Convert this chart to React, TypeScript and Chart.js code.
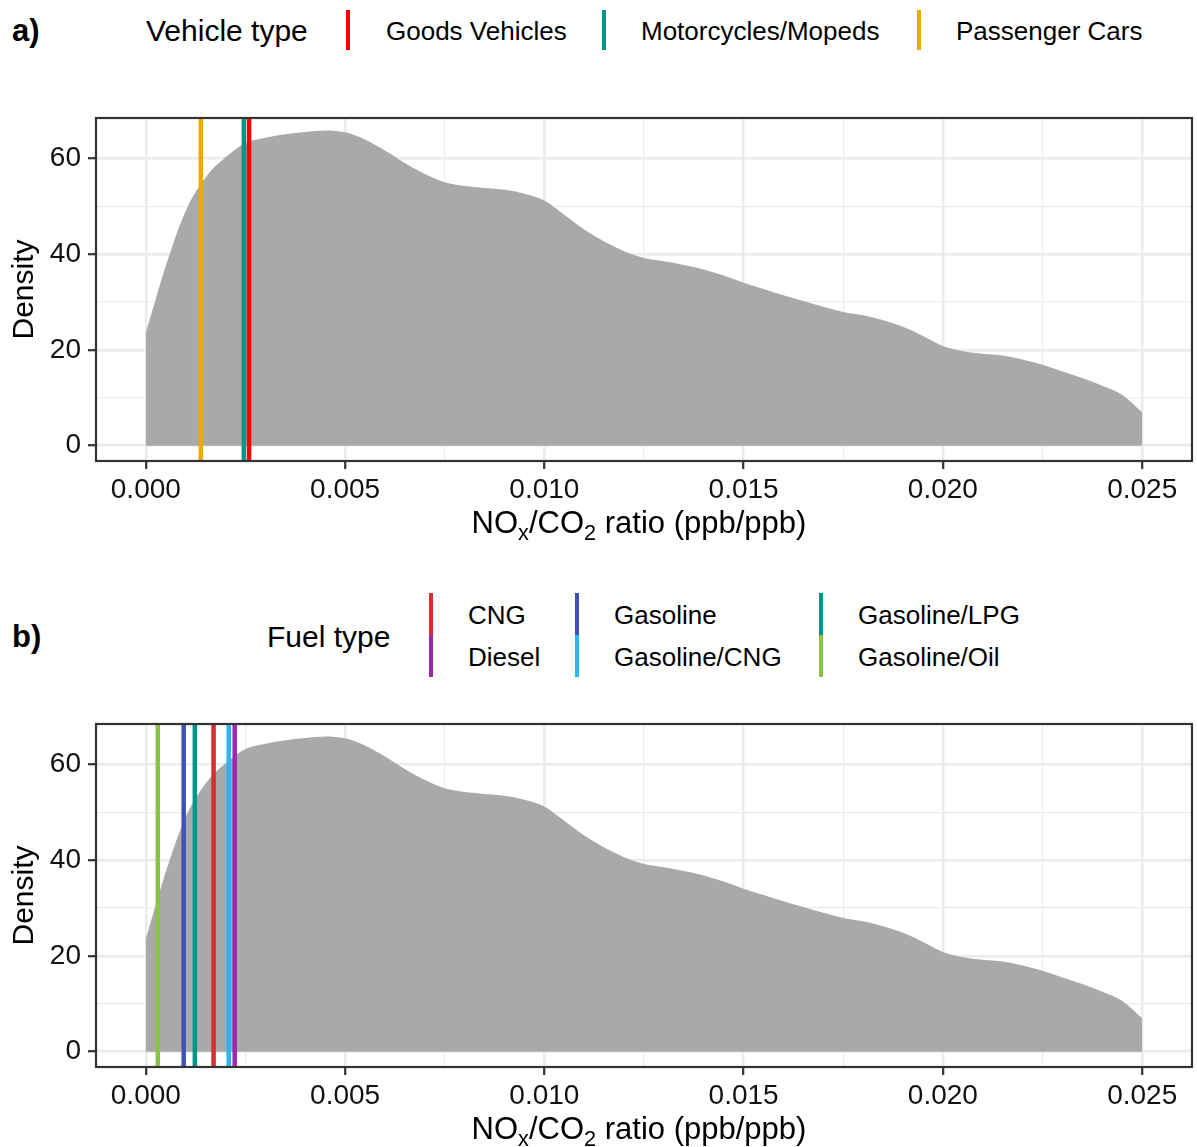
import React, { useEffect, useRef } from 'react';
import { Chart, registerables } from 'chart.js';

Chart.register(...registerables);

const FONT = "'Liberation Sans', Arial, Helvetica, sans-serif";

// Kernel density of the NOx/CO2 ratio (same in both panels)
const X_GRID = [
  0, 0.0005, 0.001, 0.0015, 0.002, 0.0025, 0.003, 0.0035, 0.004, 0.0045,
  0.005, 0.0055, 0.006, 0.0065, 0.007, 0.0075, 0.008, 0.0085, 0.009, 0.0095,
  0.01, 0.0105, 0.011, 0.0115, 0.012, 0.0125, 0.013, 0.0135, 0.014, 0.0145,
  0.015, 0.0155, 0.016, 0.0165, 0.017, 0.0175, 0.018, 0.0185, 0.019, 0.0195,
  0.02, 0.0205, 0.021, 0.0215, 0.022, 0.0225, 0.023, 0.0235, 0.024, 0.0245, 0.025,
];
const DENSITY = [
  23.5, 37.5, 49.0, 56.0, 60.2, 63.2, 64.3, 65.0, 65.5, 65.8,
  65.4, 63.9, 61.6, 59.0, 56.7, 55.0, 54.2, 53.8, 53.4, 52.6,
  51.2, 48.2, 45.1, 42.6, 40.6, 39.2, 38.5, 37.7, 36.8, 35.5,
  34.0, 32.7, 31.4, 30.2, 29.0, 27.9, 27.2, 26.2, 24.8, 22.9,
  20.8, 19.7, 19.2, 18.8, 18.0, 16.9, 15.5, 14.1, 12.5, 10.6, 7.0,
];

// Panel a: vehicle type medians
const VEHICLE_TYPES = ['Goods Vehicles', 'Motorcycles/Mopeds', 'Passenger Cars'];
const VEHICLE_VALUES = [0.00259, 0.00246, 0.00138];
const VEHICLE_COLORS = ['#FF0000', '#009688', '#F2A800'];

// Panel b: fuel type medians
const FUEL_TYPES = ['CNG', 'Diesel', 'Gasoline', 'Gasoline/CNG', 'Gasoline/LPG', 'Gasoline/Oil'];
const FUEL_VALUES = [0.0017, 0.00223, 0.00095, 0.00208, 0.00123, 0.0003];
const FUEL_COLORS = ['#D32F2F', '#9C27B0', '#3F51B5', '#29B6F6', '#009688', '#8BC34A'];

// Axes
const X_TICKS = [0, 0.0025, 0.005, 0.0075, 0.01, 0.0125, 0.015, 0.0175, 0.02, 0.0225, 0.025];
const X_LABELS = ['0.000', '', '0.005', '', '0.010', '', '0.015', '', '0.020', '', '0.025'];
const Y_TICKS = [0, 10, 20, 30, 40, 50, 60];
const Y_LABELS = ['0', '', '20', '', '40', '', '60'];
const X_MIN = -0.00125;
const X_MAX = 0.02625;
const Y_MIN = -3.2;
const Y_MAX = 68.4;

const FILL = '#A9A9A9';
const GRID = '#EBEBEB';
const AXIS = '#333333';

const borderPlugin = {
  id: 'panelBorder',
  afterDraw(chart: any) {
    const { ctx, chartArea } = chart;
    ctx.save();
    ctx.strokeStyle = AXIS;
    ctx.lineWidth = 2.2;
    ctx.strokeRect(chartArea.left, chartArea.top, chartArea.right - chartArea.left, chartArea.bottom - chartArea.top);
    ctx.restore();
  },
};

type Line = { value: number; color: string };

function DensityPanel({ top, height, lines }: { top: number; height: number; lines: Line[] }) {
  const ref = useRef<HTMLCanvasElement | null>(null);
  useEffect(() => {
    if (!ref.current) return;
    const plotBottom = 361;
    const datasets: any[] = [
      {
        data: X_GRID.map((x, i) => ({ x, y: DENSITY[i] })),
        fill: 'origin',
        backgroundColor: FILL,
        borderWidth: 0,
        borderColor: 'rgba(0,0,0,0)',
        pointRadius: 0,
        cubicInterpolationMode: 'monotone',
        order: 10,
      },
      ...lines.map((l) => ({
        data: [
          { x: l.value, y: Y_MIN },
          { x: l.value, y: Y_MAX },
        ],
        borderColor: l.color,
        borderWidth: 4.5,
        pointRadius: 0,
        fill: false,
        order: 0,
      })),
    ];
    const chart = new Chart(ref.current, {
      type: 'line',
      data: { datasets },
      plugins: [borderPlugin],
      options: {
        responsive: false,
        animation: false,
        events: [],
        layout: { padding: { top: 18, right: 5, left: 0, bottom: 0 } },
        plugins: { legend: { display: false }, tooltip: { enabled: false } },
        scales: {
          x: {
            type: 'linear',
            min: X_MIN,
            max: X_MAX,
            afterBuildTicks: (s: any) => {
              s.ticks = X_TICKS.map((v) => ({ value: v }));
            },
            afterFit: (s: any) => {
              s.height = height - plotBottom;
              s.paddingLeft = 0;
              s.paddingRight = 0;
            },
            border: { display: false },
            grid: {
              color: GRID,
              lineWidth: (c: any) => (c.index % 2 === 0 ? 2.4 : 1.2),
              tickColor: (c: any) => (c.index % 2 === 0 ? AXIS : 'rgba(0,0,0,0)'),
              tickWidth: 2.2,
              tickLength: 8,
              drawTicks: true,
            },
            ticks: {
              autoSkip: false,
              maxRotation: 0,
              padding: 4,
              color: '#111',
              font: { family: FONT, size: 28 },
              callback: (_v: any, i: number) => X_LABELS[i],
            },
          },
          y: {
            type: 'linear',
            min: Y_MIN,
            max: Y_MAX,
            afterBuildTicks: (s: any) => {
              s.ticks = Y_TICKS.map((v) => ({ value: v }));
            },
            afterFit: (s: any) => {
              s.width = 96;
              s.paddingTop = 0;
              s.paddingBottom = 0;
            },
            border: { display: false },
            grid: {
              color: GRID,
              lineWidth: (c: any) => (c.index % 2 === 0 ? 2.4 : 1.2),
              tickColor: (c: any) => (c.index % 2 === 0 ? AXIS : 'rgba(0,0,0,0)'),
              tickWidth: 2.2,
              tickLength: 8,
              drawTicks: true,
            },
            ticks: {
              autoSkip: false,
              padding: 7,
              color: '#111',
              font: { family: FONT, size: 28 },
              callback: (_v: any, i: number) => Y_LABELS[i],
            },
            title: {
              display: true,
              text: 'Density',
              color: '#000',
              font: { family: FONT, size: 30 },
              padding: { top: 7, bottom: 0 },
            },
          },
        },
      },
    });
    return () => chart.destroy();
  }, []);
  return (
    <canvas
      ref={ref}
      width={1197}
      height={height}
      style={{ position: 'absolute', left: 0, top, width: 1197, height }}
    />
  );
}

const textBase: React.CSSProperties = {
  position: 'absolute',
  fontFamily: FONT,
  color: '#000',
  whiteSpace: 'nowrap',
  height: 40,
  lineHeight: '40px',
};

function Label({ x, cy, size, bold, children }: { x: number; cy: number; size: number; bold?: boolean; children: any }) {
  return (
    <div style={{ ...textBase, left: x, top: cy - 20, fontSize: size, fontWeight: bold ? 'bold' : 'normal' }}>{children}</div>
  );
}

function Key({ x, y0, y1, color }: { x: number; y0: number; y1: number; color: string }) {
  return <div style={{ position: 'absolute', left: x - 2.25, top: y0, width: 4.5, height: y1 - y0, background: color }} />;
}

function XTitle({ cy }: { cy: number }) {
  return (
    <div
      style={{
        position: 'absolute',
        left: 91,
        width: 1096,
        top: cy - 20,
        height: 40,
        lineHeight: '40px',
        textAlign: 'center',
        fontFamily: FONT,
        fontSize: 31,
        color: '#000',
        whiteSpace: 'nowrap',
      }}
    >
      NO<span style={{ fontSize: '0.7em', position: 'relative', top: '0.3em' }}>x</span>/CO
      <span style={{ fontSize: '0.7em', position: 'relative', top: '0.3em' }}>2</span> ratio (ppb/ppb)
    </div>
  );
}

export default function App() {
  const vehicleKeyX = [348, 604, 919];
  const vehicleLabelX = [386, 641, 956];
  const fuelColX = [431, 577, 821];
  const fuelLabelX = [468, 614, 858];
  return (
    <div
      style={{
        position: 'absolute',
        left: 0,
        top: 0,
        width: 1197,
        height: 1147,
        overflow: 'hidden',
        background: '#fff',
      }}
    >
      {/* Panel a legend */}
      <Label x={12} cy={31} size={31} bold>
        a)
      </Label>
      <Label x={146} cy={31} size={30}>
        Vehicle type
      </Label>
      {VEHICLE_TYPES.map((t, i) => (
        <React.Fragment key={t}>
          <Key x={vehicleKeyX[i]} y0={10} y1={50} color={VEHICLE_COLORS[i]} />
          <Label x={vehicleLabelX[i]} cy={31} size={26}>
            {t}
          </Label>
        </React.Fragment>
      ))}
      <DensityPanel
        top={100}
        height={460}
        lines={VEHICLE_VALUES.map((v, i) => ({ value: v, color: VEHICLE_COLORS[i] }))}
      />
      <XTitle cy={523} />

      {/* Panel b legend */}
      <Label x={12} cy={637} size={31} bold>
        b)
      </Label>
      <Label x={267} cy={637} size={30}>
        Fuel type
      </Label>
      {FUEL_TYPES.map((t, i) => {
        const col = Math.floor(i / 2);
        const row = i % 2;
        return (
          <React.Fragment key={t}>
            <Key x={fuelColX[col]} y0={row === 0 ? 593 : 635} y1={row === 0 ? 635 : 677} color={FUEL_COLORS[i]} />
            <Label x={fuelLabelX[col]} cy={row === 0 ? 615 : 657} size={26}>
              {t}
            </Label>
          </React.Fragment>
        );
      })}
      <DensityPanel
        top={706}
        height={441}
        lines={FUEL_VALUES.map((v, i) => ({ value: v, color: FUEL_COLORS[i] }))}
      />
      <XTitle cy={1129} />
    </div>
  );
}
